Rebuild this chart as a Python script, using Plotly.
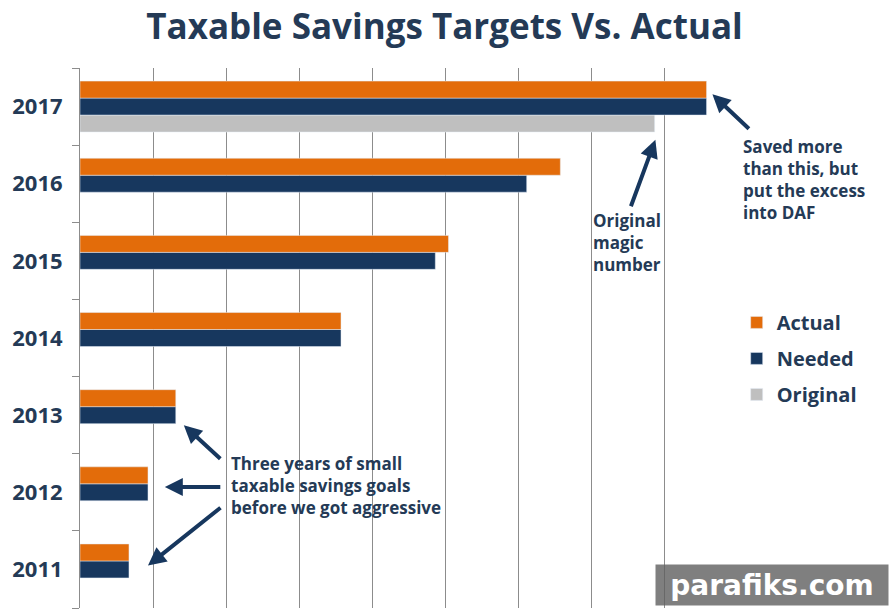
import plotly.graph_objects as go

years = ["2011", "2012", "2013", "2014", "2015", "2016", "2017"]
actual = [0.67, 0.93, 1.31, 3.57, 5.04, 6.57, 8.57]
needed = [0.67, 0.93, 1.31, 3.57, 4.86, 6.11, 8.57]
original = [None, None, None, None, None, None, 7.86]

ORANGE = "#E36C0A"
NAVY = "#17375E"
GREY = "#BFBFBF"
TEXT = "#243A56"
FONT = "Open Sans"

fig = go.Figure()
fig.add_trace(go.Bar(y=years, x=original, orientation="h", name="<b>Original</b>",
                     marker_color=GREY, legendgroup="c", legendrank=3))
fig.add_trace(go.Bar(y=years, x=needed, orientation="h", name="<b>Needed</b>",
                     marker_color=NAVY, legendgroup="b", legendrank=2))
fig.add_trace(go.Bar(y=years, x=actual, orientation="h", name="<b>Actual</b>",
                     marker_color=ORANGE, legendgroup="a", legendrank=1))

fig.update_layout(
    width=889, height=615,
    margin=dict(l=80, r=151, t=68, b=7),
    paper_bgcolor="white", plot_bgcolor="white",
    barmode="group", bargap=0.34, bargroupgap=0,
    title=dict(text="<b>Taxable Savings Targets Vs. Actual</b>", x=0.5, xanchor="center",
               y=1 - 27 / 615, yanchor="middle",
               font=dict(family=FONT, size=35, color=TEXT)),
    legend=dict(traceorder="grouped", x=0.998, xanchor="left", y=0.565, yanchor="top",
                font=dict(family=FONT, size=20, color=TEXT), bgcolor="rgba(0,0,0,0)",
                itemwidth=30, tracegroupgap=7),
    showlegend=True,
)
fig.update_xaxes(range=[0, 9], dtick=1, showgrid=True, gridcolor="#8C8C8C", gridwidth=1,
                 showticklabels=False, zeroline=False, showline=False)
fig.update_yaxes(type="category", categoryorder="array", categoryarray=years,
                 showline=True, linecolor="#8C8C8C", linewidth=1,
                 ticks="outside", tickson="boundaries", ticklen=7, tickcolor="#8C8C8C",
                 ticklabelstandoff=12, showgrid=False,
                 tickprefix="<b>", ticksuffix="</b>",
                 tickfont=dict(family=FONT, size=22, color=TEXT))

def arrow(x, y, ax, ay):
    fig.add_annotation(x=x, y=y, xref="x", yref="y", ax=ax, ay=ay, axref="pixel", ayref="pixel",
                       text="", showarrow=True, arrowhead=2, arrowsize=0.9, arrowwidth=4,
                       arrowcolor=NAVY)

arrow(8.65, 6.16, 38, 36)
arrow(7.87, 5.57, -25, 68)
arrow(1.42, 1.87, 38, 35)
arrow(1.16, 1.07, 57, 0)
arrow(0.93, 0.05, 74, -59)

def note(text, x, y):
    fig.add_annotation(x=x, y=y, xref="paper", yref="paper", xanchor="left", yanchor="top",
                       text=text, showarrow=False, align="left",
                       font=dict(family=FONT, size=17, color=TEXT))

note("<b>Saved more<br>than this, but<br>put the excess<br>into DAF</b>", 1.005, 0.88)
note("<b>Original<br>magic<br>number</b>", 0.776, 0.742)
note("<b>Three years of small<br>taxable savings goals<br>before we got aggressive</b>", 0.226, 0.292)

fig.add_annotation(
    x=(772 - 80) / 658, y=(608 - 585) / 540, xref="paper", yref="paper",
    xanchor="center", yanchor="middle", text="<b>parafiks.com</b>", showarrow=False,
    font=dict(family="DejaVu Sans", size=28, color="white"),
    bgcolor="rgba(95,95,95,0.8)", borderpad=2, width=228, height=36)

fig.write_html("out.html")
